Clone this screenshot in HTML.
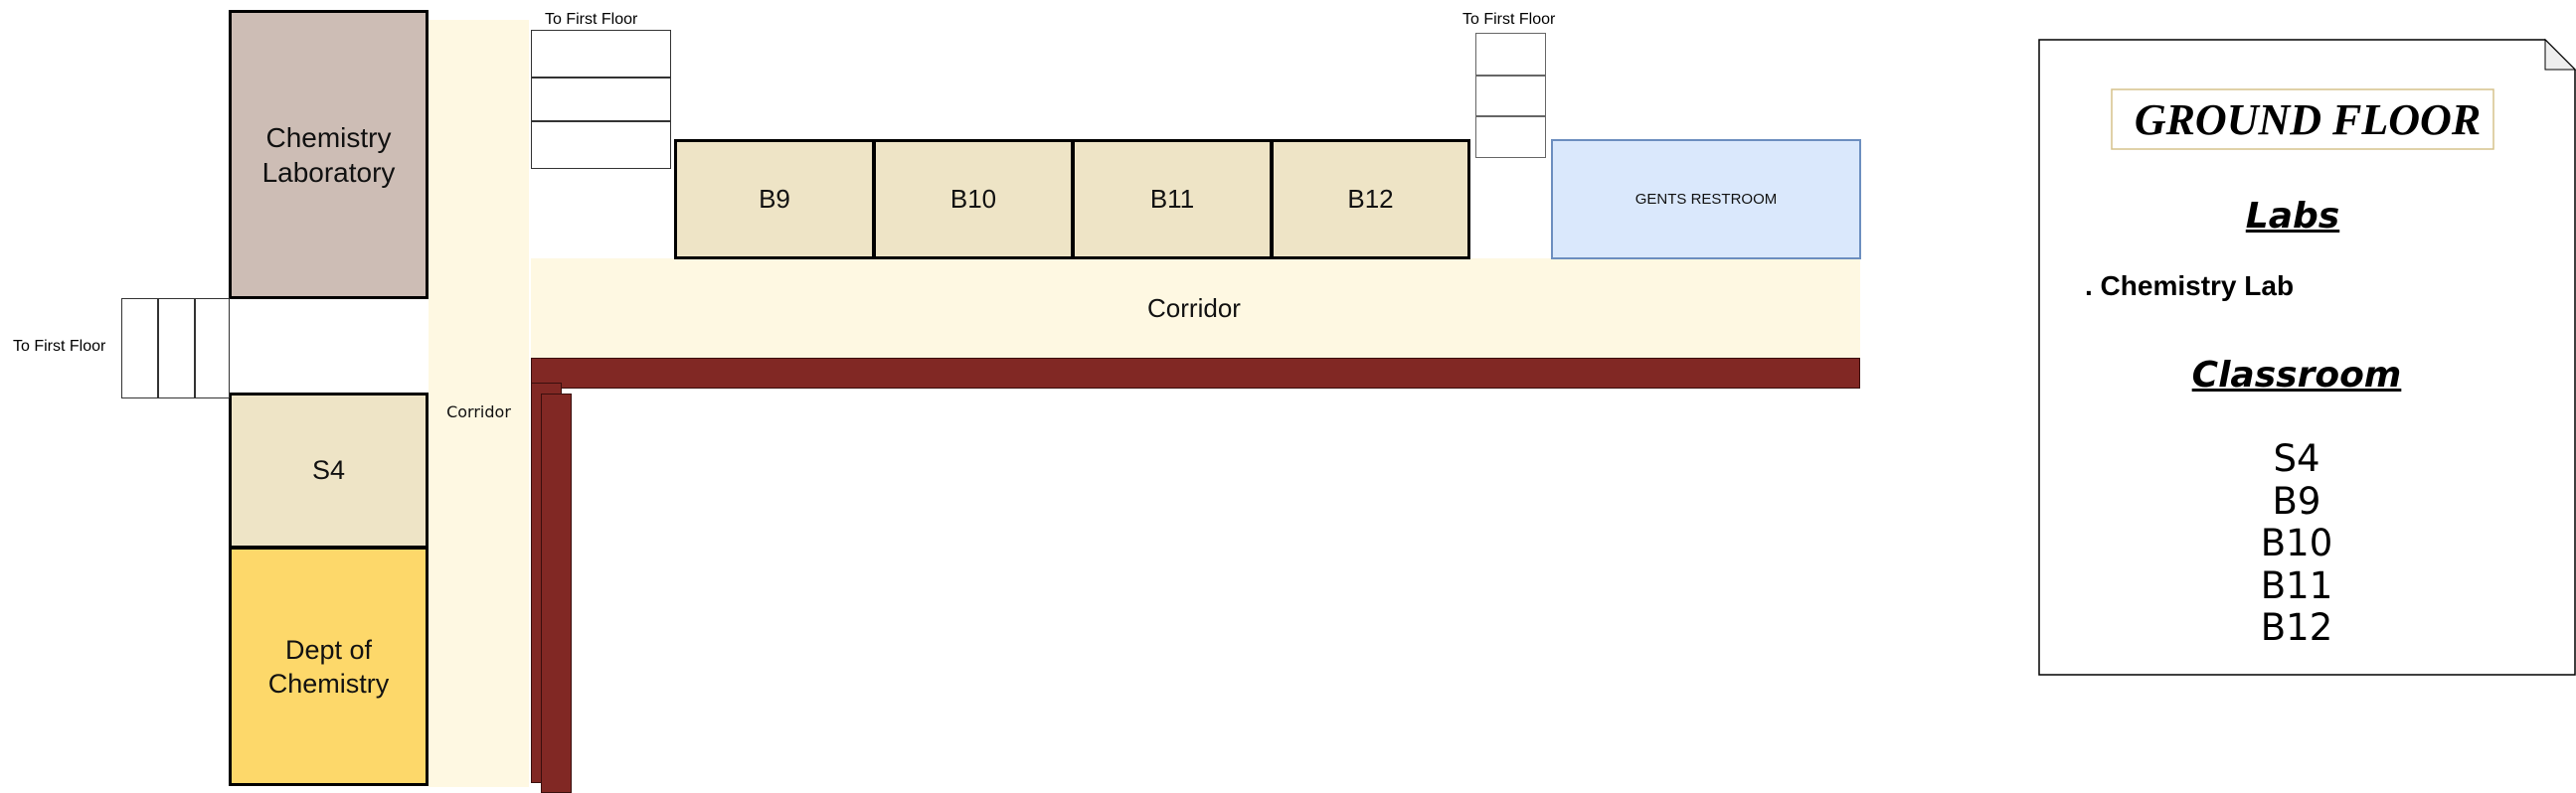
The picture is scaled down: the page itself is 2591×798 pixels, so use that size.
<!DOCTYPE html>
<html><head><meta charset="utf-8"><style>
body{margin:0;width:2591px;height:798px;background:#fff;position:relative;overflow:hidden;font-family:"Liberation Sans",sans-serif}
div{position:absolute;box-sizing:border-box}
.c{display:flex;align-items:center;justify-content:center;text-align:center;color:#111}
.room{border:3px solid #000;background:#EEE4C6;font-size:26px}
.st{background:#fff;border:1.5px solid #333}
.red{background:#812824;border:1.5px solid #3a0f0d}
.lbl{font-size:16px;white-space:nowrap}
</style></head><body>
<div class="c" style="left:431px;top:20px;width:101px;height:772px;background:#FEF8E2;font-family:'DejaVu Sans',sans-serif;font-size:16px"><span style="position:absolute;top:385px;left:0;width:100%">Corridor</span></div>
<div style="left:534px;top:260px;width:1337px;height:100px;background:#FEF8E2"></div>
<div class="c" style="left:1101px;top:290px;width:200px;height:40px;font-size:26px">Corridor</div>
<div class="c room" style="left:230px;top:10px;width:201px;height:291px;background:#CDBDB5;font-size:28px;line-height:35px">Chemistry<br>Laboratory</div>
<div class="c room" style="left:230px;top:395px;width:201px;height:157px;font-size:27px">S4</div>
<div class="c room" style="left:230px;top:550px;width:201px;height:241px;background:#FDD86A;font-size:27px;line-height:34px">Dept of<br>Chemistry</div>
<div class="st" style="left:122px;top:300px;width:109px;height:101px"></div>
<div style="left:158px;top:300px;width:1.5px;height:101px;background:#333"></div>
<div style="left:195px;top:300px;width:1.5px;height:101px;background:#333"></div>
<div class="lbl" style="left:13px;top:340px">To First Floor</div>
<div class="st" style="left:534px;top:30px;width:141px;height:140px"></div>
<div style="left:534px;top:77px;width:141px;height:1.5px;background:#333"></div>
<div style="left:534px;top:121px;width:141px;height:1.5px;background:#333"></div>
<div class="lbl" style="left:548px;top:11px">To First Floor</div>
<div class="st" style="left:1484px;top:33px;width:71px;height:126px;border-color:#666"></div>
<div style="left:1484px;top:75px;width:71px;height:1.5px;background:#666"></div>
<div style="left:1484px;top:116px;width:71px;height:1.5px;background:#666"></div>
<div class="lbl" style="left:1471px;top:11px">To First Floor</div>
<div class="c room" style="left:678px;top:140px;width:202px;height:121px">B9</div>
<div class="c room" style="left:878px;top:140px;width:202px;height:121px">B10</div>
<div class="c room" style="left:1078px;top:140px;width:202px;height:121px">B11</div>
<div class="c room" style="left:1278px;top:140px;width:201px;height:121px">B12</div>
<div class="c" style="left:1560px;top:140px;width:312px;height:121px;background:#DAE8FC;border:2px solid #6C8EBF;font-size:15px">GENTS RESTROOM</div>
<div class="red" style="left:534px;top:360px;width:1337px;height:31px"></div>
<div class="red" style="left:534px;top:385px;width:31px;height:403px"></div>
<div class="red" style="left:544px;top:396px;width:31px;height:402px"></div>
<svg style="position:absolute;left:0;top:0" width="2591" height="798">
<path d="M2051 40 H2560 L2590 70 V679 H2051 Z" fill="#fff" stroke="#000" stroke-width="1.5"/>
<path d="M2560 40 V70 H2590 Z" fill="#eee" stroke="#000" stroke-width="1"/>
<rect x="2124" y="90" width="384" height="60" fill="#fff" stroke="#D6C28C" stroke-width="1.5"/>
</svg>
<div style="left:2124px;top:90px;width:384px;height:60px;display:flex;align-items:center;justify-content:center;font-family:'Liberation Serif',serif;font-weight:bold;font-style:italic;font-size:44px;padding-left:10px">GROUND FLOOR</div>
<div style="left:2051px;top:197px;width:510px;text-align:center;font-family:'DejaVu Sans',sans-serif;font-weight:bold;font-style:italic;text-decoration:underline;font-size:36px">Labs</div>
<div style="left:2097px;top:272px;font-weight:bold;font-size:28px;white-space:nowrap">. Chemistry Lab</div>
<div style="left:2051px;top:357px;width:518px;text-align:center;font-family:'DejaVu Sans',sans-serif;font-weight:bold;font-style:italic;text-decoration:underline;font-size:36px">Classroom</div>
<div style="left:2051px;top:441px;width:518px;text-align:center;font-family:'DejaVu Sans',sans-serif;font-size:37px;line-height:42.5px">S4<br>B9<br>B10<br>B11<br>B12</div>
</body></html>
